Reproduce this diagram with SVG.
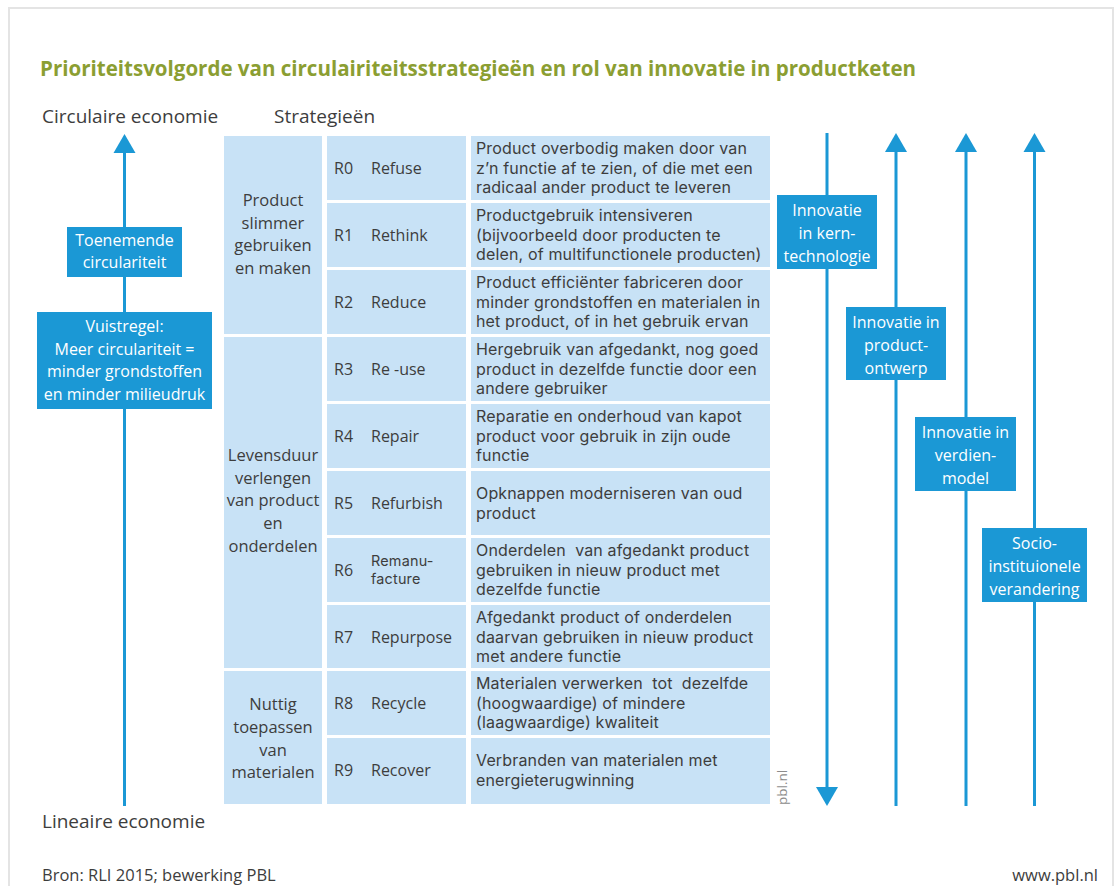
<svg xmlns="http://www.w3.org/2000/svg" width="1115" height="886" viewBox="0 0 1115 886">
  <style>
    text { font-family: "Open Sans", "Noto Sans", "Liberation Sans", sans-serif; fill: #3d3d3d; }
    .title { font-size: 21px; font-weight: 700; fill: #8b9e32; }
    .head { font-size: 19px; }
    .foot { font-size: 16.5px; }
    .cell { fill: #c8e2f6; }
    .grp { font-size: 16.5px; text-anchor: middle; }
    .code { font-size: 16px; }
    .code2 { font-family: Inter, "Open Sans", sans-serif; font-size: 14.4px; letter-spacing: 0.2px; }
    .desc { font-family: Inter, "Open Sans", sans-serif; font-size: 16px; letter-spacing: 0.15px; white-space: pre; }
    .box { fill: #1b98d5; }
    .boxt { font-size: 16px; fill: #ffffff; text-anchor: middle; }
    .axis { stroke: #1b98d5; stroke-width: 3; fill: none; }
    .head-arrow { fill: #1b98d5; }
    .credit { font-size: 13.5px; fill: #8c8c8c; }
  </style>

  <!-- page frame -->
  <rect x="9" y="8" width="1104" height="890" fill="#ffffff" stroke="#e4e4e4" stroke-width="2"/>

  <text class="title" x="40" y="76" textLength="876" lengthAdjust="spacingAndGlyphs">Prioriteitsvolgorde van circulairiteitsstrategieën en rol van innovatie in productketen</text>

  <text class="head" x="42" y="123">Circulaire economie</text>
  <text class="head" x="274" y="123">Strategieën</text>
  <text class="head" x="42" y="828">Lineaire economie</text>

  <!-- vertical axes -->
  <g id="connectors">
    <line class="axis" x1="124.5" y1="150" x2="124.5" y2="806"/>
    <polygon class="head-arrow" points="124.5,134 113.5,153 135.5,153"/>

    <line class="axis" x1="827" y1="133" x2="827" y2="790"/>
    <polygon class="head-arrow" points="827,806 816,787 838,787"/>

    <line class="axis" x1="896" y1="150" x2="896" y2="806"/>
    <polygon class="head-arrow" points="896,133 885,152 907,152"/>

    <line class="axis" x1="966" y1="150" x2="966" y2="806"/>
    <polygon class="head-arrow" points="966,133 955,152 977,152"/>

    <line class="axis" x1="1034.5" y1="150" x2="1034.5" y2="806"/>
    <polygon class="head-arrow" points="1034.5,133 1023.5,152 1045.5,152"/>
  </g>

  <!-- left-hand labels on the circularity axis -->
  <g id="toenemende">
    <rect class="box" x="67" y="227" width="115" height="50"/>
    <text class="boxt" x="124.5" y="246"><tspan x="124.5">Toenemende</tspan><tspan x="124.5" dy="22">circulariteit</tspan></text>
  </g>
  <g id="vuistregel">
    <rect class="box" x="37" y="312" width="175" height="97"/>
    <text class="boxt" x="124.5" y="332"><tspan x="124.5">Vuistregel:</tspan><tspan x="124.5" dy="22.5">Meer circulariteit =</tspan><tspan x="124.5" dy="22.7">minder grondstoffen</tspan><tspan x="124.5" dy="22.8">en minder milieudruk</tspan></text>
  </g>

  <!-- strategy groups -->
  <g id="groep-slimmer">
    <rect class="cell" x="224" y="136" width="98" height="198"/>
    <text class="grp" x="273" y="206"><tspan x="273">Product</tspan><tspan x="273" dy="22.6">slimmer</tspan><tspan x="273" dy="22.8">gebruiken</tspan><tspan x="273" dy="22.6">en maken</tspan></text>
  </g>
  <g id="groep-levensduur">
    <rect class="cell" x="224" y="337" width="98" height="331"/>
    <text class="grp" x="273" y="461"><tspan x="273">Levensduur</tspan><tspan x="273" dy="22.6">verlengen</tspan><tspan x="273" dy="22.6">van product</tspan><tspan x="273" dy="22.6">en</tspan><tspan x="273" dy="22.8">onderdelen</tspan></text>
  </g>
  <g id="groep-materialen">
    <rect class="cell" x="224" y="671" width="98" height="133"/>
    <text class="grp" x="273" y="710"><tspan x="273">Nuttig</tspan><tspan x="273" dy="22.8">toepassen</tspan><tspan x="273" dy="22.8">van</tspan><tspan x="273" dy="22.6">materialen</tspan></text>
  </g>

  <!-- strategies R0 .. R9 -->
  <g id="r0">
    <rect class="cell" x="327" y="136" width="139" height="64"/>
    <rect class="cell" x="471" y="136" width="299" height="64"/>
    <text class="code" x="334" y="174">R0</text>
    <text class="code" x="371" y="174">Refuse</text>
    <text class="desc" x="476" y="154"><tspan x="476">Product overbodig maken door van</tspan><tspan x="476" dy="19.5">z’n functie af te zien, of die met een</tspan><tspan x="476" dy="19.5">radicaal ander product te leveren</tspan></text>
  </g>
  <g id="r1">
    <rect class="cell" x="327" y="203" width="139" height="64"/>
    <rect class="cell" x="471" y="203" width="299" height="64"/>
    <text class="code" x="334" y="241">R1</text>
    <text class="code" x="371" y="241">Rethink</text>
    <text class="desc" x="476" y="221"><tspan x="476">Productgebruik intensiveren</tspan><tspan x="476" dy="19.5">(bijvoorbeeld door producten te</tspan><tspan x="476" dy="19.5">delen, of multifunctionele producten)</tspan></text>
  </g>
  <g id="r2">
    <rect class="cell" x="327" y="270" width="139" height="64"/>
    <rect class="cell" x="471" y="270" width="299" height="64"/>
    <text class="code" x="334" y="308">R2</text>
    <text class="code" x="371" y="308">Reduce</text>
    <text class="desc" x="476" y="288"><tspan x="476">Product efficiënter fabriceren door</tspan><tspan x="476" dy="19.5">minder grondstoffen en materialen in</tspan><tspan x="476" dy="19.5">het product, of in het gebruik ervan</tspan></text>
  </g>
  <g id="r3">
    <rect class="cell" x="327" y="337" width="139" height="64"/>
    <rect class="cell" x="471" y="337" width="299" height="64"/>
    <text class="code" x="334" y="375">R3</text>
    <text class="code" x="371" y="375">Re -use</text>
    <text class="desc" x="476" y="355"><tspan x="476">Hergebruik van afgedankt, nog goed</tspan><tspan x="476" dy="19.5">product in dezelfde functie door een</tspan><tspan x="476" dy="19.5">andere gebruiker</tspan></text>
  </g>
  <g id="r4">
    <rect class="cell" x="327" y="404" width="139" height="64"/>
    <rect class="cell" x="471" y="404" width="299" height="64"/>
    <text class="code" x="334" y="442">R4</text>
    <text class="code" x="371" y="442">Repair</text>
    <text class="desc" x="476" y="422"><tspan x="476">Reparatie en onderhoud van kapot</tspan><tspan x="476" dy="19.5">product voor gebruik in zijn oude</tspan><tspan x="476" dy="19.5">functie</tspan></text>
  </g>
  <g id="r5">
    <rect class="cell" x="327" y="471" width="139" height="64"/>
    <rect class="cell" x="471" y="471" width="299" height="64"/>
    <text class="code" x="334" y="509">R5</text>
    <text class="code" x="371" y="509">Refurbish</text>
    <text class="desc" x="476" y="499"><tspan x="476">Opknappen moderniseren van oud</tspan><tspan x="476" dy="19.5">product</tspan></text>
  </g>
  <g id="r6">
    <rect class="cell" x="327" y="538" width="139" height="64"/>
    <rect class="cell" x="471" y="538" width="299" height="64"/>
    <text class="code" x="334" y="576">R6</text>
    <text class="code2" x="371" y="566"><tspan x="371">Remanu-</tspan><tspan x="371" dy="17.5">facture</tspan></text>
    <text class="desc" x="476" y="556"><tspan x="476">Onderdelen  van afgedankt product</tspan><tspan x="476" dy="19.5">gebruiken in nieuw product met</tspan><tspan x="476" dy="19.5">dezelfde functie</tspan></text>
  </g>
  <g id="r7">
    <rect class="cell" x="327" y="605" width="139" height="63"/>
    <rect class="cell" x="471" y="605" width="299" height="63"/>
    <text class="code" x="334" y="643">R7</text>
    <text class="code" x="371" y="643">Repurpose</text>
    <text class="desc" x="476" y="623"><tspan x="476">Afgedankt product of onderdelen</tspan><tspan x="476" dy="19.5">daarvan gebruiken in nieuw product</tspan><tspan x="476" dy="19.5">met andere functie</tspan></text>
  </g>
  <g id="r8">
    <rect class="cell" x="327" y="671" width="139" height="64"/>
    <rect class="cell" x="471" y="671" width="299" height="64"/>
    <text class="code" x="334" y="709">R8</text>
    <text class="code" x="371" y="709">Recycle</text>
    <text class="desc" x="476" y="689"><tspan x="476">Materialen verwerken  tot  dezelfde</tspan><tspan x="476" dy="19.5">(hoogwaardige) of mindere</tspan><tspan x="476" dy="19.5">(laagwaardige) kwaliteit</tspan></text>
  </g>
  <g id="r9">
    <rect class="cell" x="327" y="738" width="139" height="66"/>
    <rect class="cell" x="471" y="738" width="299" height="66"/>
    <text class="code" x="334" y="776">R9</text>
    <text class="code" x="371" y="776">Recover</text>
    <text class="desc" x="476" y="766"><tspan x="476">Verbranden van materialen met</tspan><tspan x="476" dy="19.5">energieterugwinning</tspan></text>
  </g>

  <!-- innovation labels on the right-hand axes -->
  <g id="kerntechnologie">
    <rect class="box" x="777" y="195" width="100" height="74"/>
    <text class="boxt" x="827" y="216"><tspan x="827">Innovatie</tspan><tspan x="827" dy="23">in kern-</tspan><tspan x="827" dy="23">technologie</tspan></text>
  </g>
  <g id="productontwerp">
    <rect class="box" x="846" y="307" width="100" height="73"/>
    <text class="boxt" x="896" y="328"><tspan x="896">Innovatie in</tspan><tspan x="896" dy="23">product-</tspan><tspan x="896" dy="23">ontwerp</tspan></text>
  </g>
  <g id="verdienmodel">
    <rect class="box" x="915" y="417" width="101" height="74"/>
    <text class="boxt" x="965.5" y="438"><tspan x="965.5">Innovatie in</tspan><tspan x="965.5" dy="23">verdien-</tspan><tspan x="965.5" dy="23">model</tspan></text>
  </g>
  <g id="sociaal">
    <rect class="box" x="982" y="528" width="105" height="74"/>
    <text class="boxt" x="1034.5" y="549"><tspan x="1034.5">Socio-</tspan><tspan x="1034.5" dy="23">instituionele</tspan><tspan x="1034.5" dy="23">verandering</tspan></text>
  </g>

  <text class="credit" x="787" y="805" transform="rotate(-90 787 805)">pbl.nl</text>

  <text class="foot" x="42" y="881">Bron: RLI 2015; bewerking PBL</text>
  <text class="foot" x="1098" y="881" text-anchor="end">www.pbl.nl</text>
</svg>
